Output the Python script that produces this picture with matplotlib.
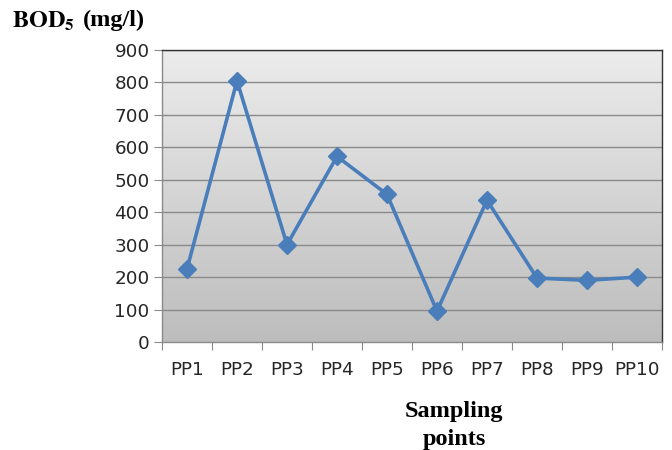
import matplotlib
matplotlib.use("Agg")
import matplotlib.pyplot as plt
import numpy as np
from matplotlib.colors import LinearSegmentedColormap

categories = ["PP1", "PP2", "PP3", "PP4", "PP5", "PP6", "PP7", "PP8", "PP9", "PP10"]
bod5 = [225, 805, 300, 572, 455, 95, 437, 197, 190, 200]
yticks = [0, 100, 200, 300, 400, 500, 600, 700, 800, 900]

plt.rcParams['mathtext.fontset'] = 'stix'

fig = plt.figure(figsize=(6.72, 4.5), dpi=100)
ax = fig.add_axes([162/672, 1-342/450, 500/672, 292/450])

x = np.arange(len(categories))
ax.set_xlim(-0.5, len(categories) - 0.5)
ax.set_ylim(0, 900)

# gradient background
grad = np.linspace(0, 1, 256).reshape(-1, 1)
cmap = LinearSegmentedColormap.from_list("g", ["#bdbdbd", "#ececec"])
ax.imshow(grad, extent=[-0.5, len(categories) - 0.5, 0, 900], origin="lower",
          aspect="auto", cmap=cmap, zorder=0)

for v in yticks[1:]:
    ax.axhline(v, color="#8a8a8a", lw=1.0, zorder=1)

ax.plot(x, bod5, color="#4a7ebb", lw=2.6, marker="D", markersize=9,
        markerfacecolor="#4a7ebb", markeredgecolor="#4a7ebb", zorder=3, clip_on=False)

tfont = dict(fontfamily="DejaVu Sans", fontsize=13.2, color="#262626")
ax.set_yticks(yticks)
ax.set_yticklabels([str(v) for v in yticks], **tfont)
ax.set_xticks(np.arange(-0.5, len(categories)), minor=False)
ax.set_xticklabels([])
ax.set_xticks(x, minor=True)
ax.set_xticklabels(categories, minor=True, **tfont)
ax.tick_params(axis="x", which="minor", length=0, pad=14)
ax.tick_params(axis="x", which="major", length=6, color="#8a8a8a", direction="out")
ax.tick_params(axis="y", length=6, color="#8a8a8a", direction="out", pad=3)

for s in ["left", "bottom"]:
    ax.spines[s].set_color("#8a8a8a")
    ax.spines[s].set_linewidth(1.0)
for s in ["top", "right"]:
    ax.spines[s].set_color("#333333")
    ax.spines[s].set_linewidth(1.0)

fig.text(12/672, 1-21/450, r"$\mathbf{BOD}_{\mathbf{5}}$", fontsize=17.5, ha="left", va="center")
fig.text(83/672, 1-20/450, "(mg/l)", fontfamily="Liberation Serif", fontweight="bold",
         fontsize=17.5, ha="left", va="center")
fig.text(454/672, 1-412/450, "Sampling", fontfamily="Liberation Serif", fontweight="bold",
         fontsize=17.5, ha="center", va="center")
fig.text(454/672, 1-439/450, "points", fontfamily="Liberation Serif", fontweight="bold",
         fontsize=17.5, ha="center", va="center")

fig.savefig("out.png", dpi=100)
